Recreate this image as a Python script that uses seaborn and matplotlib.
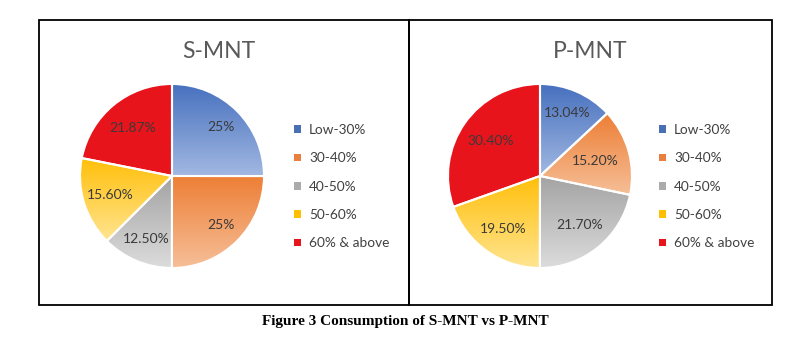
import numpy as np
import matplotlib
matplotlib.use("Agg")
import matplotlib.pyplot as plt
import seaborn as sns
from matplotlib.patches import Rectangle, Patch
from matplotlib.colors import LinearSegmentedColormap

# ---- data ----
categories = ["Low-30%", "30-40%", "40-50%", "50-60%", "60% & above"]
s_mnt_values = [25, 25, 12.5, 15.6, 21.87]
s_mnt_labels = ["25%", "25%", "12.50%", "15.60%", "21.87%"]
p_mnt_values = [13.04, 15.2, 21.7, 19.5, 30.4]
p_mnt_labels = ["13.04%", "15.20%", "21.70%", "19.50%", "30.40%"]
titles = ["S-MNT", "P-MNT"]
caption = "Figure 3 Consumption of S-MNT vs P-MNT"

sns.set_theme(style="white")
plt.rcParams['font.family'] = ['Lato', 'DejaVu Sans']

dark_cols = ["#4670be", "#ed7e35", "#a3a3a3", "#ffbf0a", "#e8141c"]
light_cols = ["#a2b8e2", "#f6bf98", "#dcdcdc", "#ffe591", "#e8141c"]
legend_cols = ["#4a6fb5", "#ea8040", "#ababab", "#ffc000", "#e8141c"]
palette = sns.color_palette(dark_cols)

W, H = 812, 343
fig = plt.figure(figsize=(W / 100, H / 100), dpi=100)

# panel borders (pixel coords, y from top)
for (x0, x1) in [(39, 409), (409, 772)]:
    fig.patches.append(Rectangle((x0 / W, 1 - 305 / H), (x1 - x0) / W, (305 - 20) / H,
                                 transform=fig.transFigure, fill=False,
                                 edgecolor="black", linewidth=1.3))

R = 92
half = 101


def draw_pie(cx, cy, values, labels, title, title_x, leg_x, label_dists):
    ax = fig.add_axes([(cx - half) / W, (H - cy - half) / H, 2 * half / W, 2 * half / H])
    lim = half / R
    wedges, _, autotexts = ax.pie(values, colors=palette, startangle=90, counterclock=False,
                                  autopct="%1.1f", pctdistance=0.72,
                                  wedgeprops=dict(edgecolor="white", linewidth=1.5),
                                  radius=1.0, normalize=True)
    for w, t, lab, d in zip(wedges, autotexts, labels, label_dists):
        ang = np.deg2rad((w.theta1 + w.theta2) / 2)
        t.set_position((d * np.cos(ang), d * np.sin(ang)))
        t.set_text(lab)
        t.set_color("#3a3a3a")
        t.set_fontsize(10)
    # gradient fill per wedge
    for i, w in enumerate(wedges):
        path = w.get_path().transformed(w.get_patch_transform())
        ys = path.vertices[:, 1]
        xs = path.vertices[:, 0]
        y0, y1 = ys.min(), ys.max()
        x0, x1 = xs.min(), xs.max()
        cmap = LinearSegmentedColormap.from_list("g%d" % i, [light_cols[i], dark_cols[i]])
        grad = np.linspace(0, 1, 256).reshape(-1, 1)
        im = ax.imshow(grad, cmap=cmap, extent=[x0, x1, y0, y1], origin="lower",
                       aspect="auto", zorder=w.get_zorder() + 0.1, interpolation="bilinear")
        im.set_clip_path(w)
        w.set_facecolor("none")
    for w in wedges:
        w.set_zorder(5)
    for t in autotexts:
        t.set_zorder(6)
    ax.set_xlim(-lim, lim)
    ax.set_ylim(-lim, lim)
    ax.set_aspect("equal")
    ax.axis("off")
    fig.text(title_x / W, 1 - 51 / H, title, ha="center", va="center",
             fontsize=16.5, color="#595959")
    handles = [Patch(facecolor=c, edgecolor="none") for c in legend_cols]
    fig.legend(handles, categories, loc="upper left",
               bbox_to_anchor=(leg_x / W, 1 - 124 / H), frameon=False,
               fontsize=9.8, handlelength=0.5, handleheight=0.5, handletextpad=0.6,
               labelspacing=1.2, borderpad=0, borderaxespad=0, labelcolor="#404040")


draw_pie(172, 176, s_mnt_values, s_mnt_labels, titles[0], 219, 294,
         [0.75, 0.76, 0.74, 0.70, 0.68])
draw_pie(540, 176, p_mnt_values, p_mnt_labels, titles[1], 590, 659,
         [0.75, 0.62, 0.68, 0.70, 0.66])

fig.text(405 / W, 1 - 322 / H, caption, ha="center", va="center",
         fontsize=11, fontweight="bold", family=["Liberation Serif", "DejaVu Serif"],
         color="black")

fig.savefig("out.png", dpi=100)
